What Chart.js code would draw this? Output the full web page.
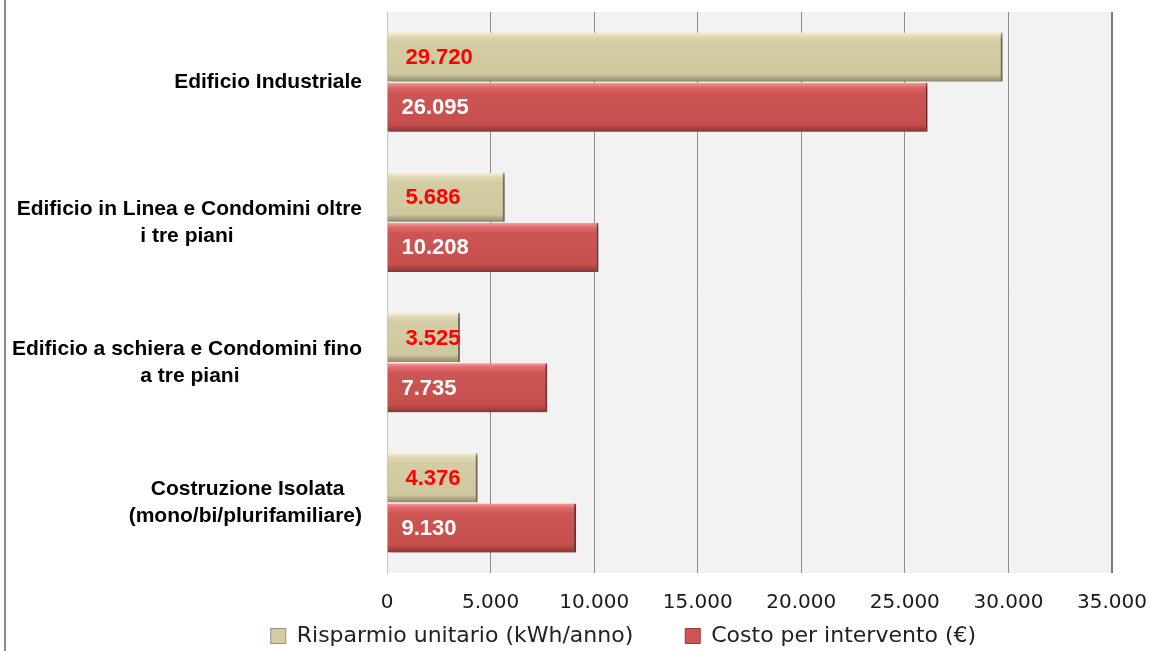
<!DOCTYPE html>
<html>
<head>
<meta charset="utf-8">
<script src="https://cdn.jsdelivr.net/npm/chart.js@4.4.1/dist/chart.umd.min.js"></script>
<style>
  html, body { margin: 0; padding: 0; background: #fff; }
  #wrap { position: relative; width: 1149px; height: 651px; }
  #frame { position: absolute; left: 4px; top: 0; width: 2px; height: 651px; background: #8a8a8a; }
</style>
</head>
<body>
<div id="wrap">
  <canvas id="chart" width="1149" height="651"></canvas>
  <div id="frame"></div>
</div>
<script>
const categories = [
    ['Edificio Industriale'],
    ['Edificio in Linea e Condomini oltre', 'i tre piani'],
    ['Edificio a schiera e Condomini fino', 'a tre piani'],
    ['Costruzione Isolata', '(mono/bi/plurifamiliare)']
];
const seriesNames = ['Risparmio unitario (kWh/anno)', 'Costo per intervento (€)'];
const risparmio = [29720, 5686, 3525, 4376];
const costo = [26095, 10208, 7735, 9130];
const xMax = 35000;
const xStep = 5000;

const labelFont = 'bold 21px "Liberation Sans"';
const tickFontFamily = '"DejaVu Sans"';
const legendSize = 22;
const catPct = 0.714;

function fmt(v) {
    return String(v).replace(/\B(?=(\d{3})+(?!\d))/g, '.');
}

// pad shorter lines so that right-aligned multi-line labels look centred
const measureCtx = document.createElement('canvas').getContext('2d');
function centerLines(lines) {
    measureCtx.font = labelFont;
    const widths = lines.map(l => measureCtx.measureText(l).width);
    const max = Math.max(...widths);
    const sp = measureCtx.measureText(' ').width;
    return lines.map((l, i) => l + ' '.repeat(Math.round((max - widths[i]) / 2 / sp)));
}
const yLabels = categories.map(centerLines);

const palette = [
    { flat: '#d3cca5', border: '#9a9374', stops: ['#f8f3d5', '#ddd6b0', '#d3cca5', '#cec79f', '#a8a07e', '#8a8366'] },
    { flat: '#cd5654', border: '#94393a', stops: ['#f7a3a1', '#e06a68', '#cd5654', '#c64f4d', '#a3403e', '#883433'] }
];

function barFill(c) {
    const p = palette[c.datasetIndex];
    if (c.type !== 'data' || !c.chart.scales.y) return p.flat;
    const y = c.chart.scales.y;
    const band = Math.abs(y.getPixelForValue(1) - y.getPixelForValue(0));
    const center = y.getPixelForValue(c.dataIndex);
    const th = band * catPct / 2;
    const top = c.datasetIndex === 0 ? center - th : center;
    const g = c.chart.ctx.createLinearGradient(0, top, 0, top + th);
    const pos = [0, 0.1, 0.22, 0.84, 0.93, 1];
    p.stops.forEach((s, i) => g.addColorStop(pos[i], s));
    return g;
}

function noPadding(scale) {
    scale.paddingTop = 0;
    scale.paddingBottom = 0;
    scale.paddingLeft = 0;
    scale.paddingRight = 0;
}

const plotBg = {
    id: 'plotBg',
    beforeDraw(chart) {
        const a = chart.chartArea;
        const ctx = chart.ctx;
        ctx.save();
        ctx.fillStyle = '#f2f2f2';
        ctx.fillRect(a.left, a.top, a.right - a.left, a.bottom - a.top);
        ctx.restore();
    }
};

const barShadow = {
    id: 'barShadow',
    beforeDatasetsDraw(chart) {
        const ctx = chart.ctx;
        ctx.save();
        ctx.shadowColor = 'rgba(0,0,0,0.35)';
        ctx.shadowOffsetX = 2;
        ctx.shadowOffsetY = 3;
        ctx.shadowBlur = 4;
    },
    afterDatasetsDraw(chart) {
        chart.ctx.restore();
    }
};

const valueLabels = {
    id: 'valueLabels',
    afterDatasetsDraw(chart) {
        const ctx = chart.ctx;
        ctx.save();
        ctx.font = 'bold 22px "Liberation Sans"';
        ctx.textBaseline = 'middle';
        ctx.textAlign = 'left';
        chart.data.datasets.forEach((ds, di) => {
            const meta = chart.getDatasetMeta(di);
            ctx.fillStyle = di === 0 ? '#ff0000' : '#ffffff';
            meta.data.forEach((bar, i) => {
                ctx.fillText(fmt(ds.data[i]), bar.base + (di === 0 ? 18 : 14), bar.y + 1);
            });
        });
        ctx.restore();
    }
};

// widths of the two legend items (box + gap + text), as in the picture
const legendItemWidths = [406, 415];

const ctx = document.getElementById('chart').getContext('2d');
const chart = new Chart(ctx, {
    type: 'bar',
    data: {
        labels: yLabels,
        datasets: [
            { label: seriesNames[0], data: risparmio, backgroundColor: barFill,
              borderColor: palette[0].border, borderWidth: { top: 0, right: 2, bottom: 0, left: 0 } },
            { label: seriesNames[1], data: costo, backgroundColor: barFill,
              borderColor: palette[1].border, borderWidth: { top: 0, right: 2, bottom: 0, left: 0 } }
        ]
    },
    options: {
        indexAxis: 'y',
        responsive: false,
        animation: false,
        events: [],
        categoryPercentage: catPct,
        barPercentage: 0.98,
        layout: { padding: { left: 0, right: 37, top: 12, bottom: -6 } },
        scales: {
            x: {
                min: 0,
                max: xMax,
                ticks: {
                    stepSize: xStep,
                    padding: 18,
                    color: '#1a1a1a',
                    font: { family: tickFontFamily, size: 20 },
                    callback: v => fmt(v)
                },
                grid: {
                    drawTicks: false,
                    color: c => c.tick && c.tick.value === 0 ? '#c8c8c8' : (c.tick && c.tick.value === xMax ? '#7a7a7a' : '#8c8c8c'),
                    lineWidth: c => c.tick && c.tick.value === xMax ? 2 : 1
                },
                border: { display: false },
                afterFit(scale) { scale.height = 42; noPadding(scale); }
            },
            y: {
                ticks: {
                    padding: 25,
                    color: '#000',
                    font: { family: '"Liberation Sans"', size: 21, weight: 'bold', lineHeight: 1.3 }
                },
                grid: { display: false, drawTicks: false },
                border: { display: true, color: '#c8c8c8' },
                afterFit(scale) { scale.width = 387; noPadding(scale); }
            }
        },
        plugins: {
            tooltip: { enabled: false },
            legend: {
                position: 'bottom',
                align: 'end',
                labels: {
                    boxWidth: 15,
                    boxHeight: 15,
                    padding: 10,
                    color: '#222',
                    font: { family: tickFontFamily, size: legendSize },
                    generateLabels(ch) {
                        measureCtx.font = legendSize + 'px ' + tickFontFamily;
                        const sp = measureCtx.measureText('\u00a0').width;
                        return ch.data.datasets.map((ds, i) => {
                            const w = measureCtx.measureText(ds.label).width;
                            const extra = legendItemWidths[i] - (15 + legendSize / 2 + w);
                            return {
                                text: ds.label + '\u00a0'.repeat(Math.max(0, Math.round(extra / sp))),
                                fillStyle: palette[i].flat,
                                strokeStyle: palette[i].border,
                                lineWidth: 1,
                                fontColor: '#222',
                                datasetIndex: i
                            };
                        });
                    }
                }
            }
        }
    },
    plugins: [plotBg, barShadow, valueLabels]
});
</script>
</body>
</html>
